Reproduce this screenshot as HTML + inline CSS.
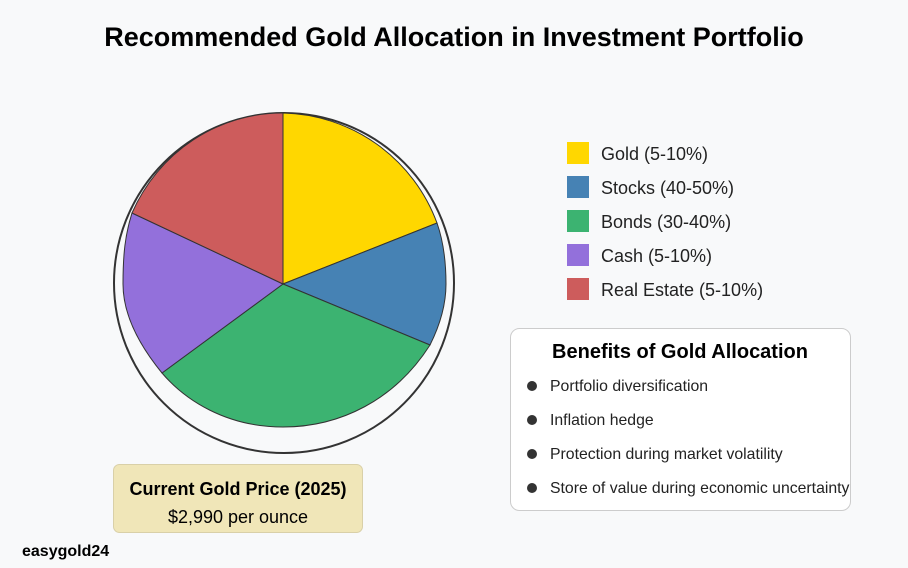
<!DOCTYPE html>
<html><head><meta charset="utf-8"><style>
body{margin:0;background:#f8f9fa;}
svg{display:block;font-family:"Liberation Sans",Arial,sans-serif;}
</style></head><body>
<svg width="908" height="568" viewBox="0 0 908 568">
<rect width="908" height="568" fill="#f8f9fa"/>
<text x="454" y="46" text-anchor="middle" font-size="27" font-weight="bold" fill="#000">Recommended Gold Allocation in Investment Portfolio</text>
<circle cx="284" cy="283" r="170" fill="none" stroke="#333" stroke-width="2"/>
<g stroke="#333" stroke-width="1">
<path d="M283,284 L283,113 A168,168 0 0 1 437,223 Z" fill="#ffd700"/>
<path d="M283,284 L437,223 C444,243 446,263 446,284 C446,305 440,325 430,345 Z" fill="#4682b4"/>
<path d="M283,284 L430,345 C395,400 340,427 283,427 C226,427 185,400 162,373 Z" fill="#3cb371"/>
<path d="M283,284 L162,373 C135,340 123,310 123,284 C123,255 125,235 132,213 Z" fill="#9370db"/>
<path d="M283,284 L132,213 A165,170 0 0 1 283,113 Z" fill="#cd5c5c"/>
</g>
<g font-size="18" fill="#222">
<rect x="567" y="142" width="22" height="22" fill="#ffd700"/><text x="601" y="160">Gold (5-10%)</text>
<rect x="567" y="176" width="22" height="22" fill="#4682b4"/><text x="601" y="194">Stocks (40-50%)</text>
<rect x="567" y="210" width="22" height="22" fill="#3cb371"/><text x="601" y="228">Bonds (30-40%)</text>
<rect x="567" y="244" width="22" height="22" fill="#9370db"/><text x="601" y="262">Cash (5-10%)</text>
<rect x="567" y="278" width="22" height="22" fill="#cd5c5c"/><text x="601" y="296">Real Estate (5-10%)</text>
</g>
<rect x="510.5" y="328.5" width="340" height="182" rx="9" fill="#fff" stroke="#ccc"/>
<text x="680" y="358" text-anchor="middle" font-size="20" font-weight="bold" fill="#000">Benefits of Gold Allocation</text>
<g font-size="15.8" fill="#222">
<circle cx="532" cy="386" r="5" fill="#333"/><text x="550" y="391">Portfolio diversification</text>
<circle cx="532" cy="420" r="5" fill="#333"/><text x="550" y="425">Inflation hedge</text>
<circle cx="532" cy="454" r="5" fill="#333"/><text x="550" y="459">Protection during market volatility</text>
<circle cx="532" cy="488" r="5" fill="#333"/><text x="550" y="493">Store of value during economic uncertainty</text>
</g>
<rect x="113.5" y="464.5" width="249" height="68" rx="6" fill="#f0e6b8" stroke="#d9d0a8"/>
<text x="238" y="495" text-anchor="middle" font-size="18" font-weight="bold" fill="#000">Current Gold Price (2025)</text>
<text x="238" y="523" text-anchor="middle" font-size="18" fill="#000">$2,990 per ounce</text>
<text x="22" y="556" font-size="16" font-weight="bold" fill="#000">easygold24</text>
</svg>
</body></html>
